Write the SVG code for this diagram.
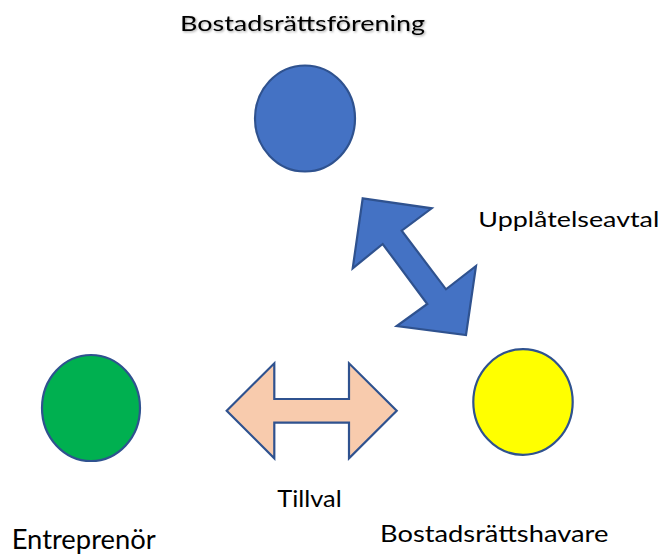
<svg xmlns="http://www.w3.org/2000/svg" width="664" height="555" viewBox="0 0 664 555">
<defs>
<style>
.lbl{font-family:Lato,"Open Sans","Liberation Sans",sans-serif;fill:#000}
.node{stroke:#2F528F;stroke-width:2.2}
.arr{stroke:#2F528F;stroke-width:2.2;stroke-linejoin:miter}
</style>
<filter id="sh" x="-5%" y="-20%" width="110%" height="150%">
<feDropShadow dx="1.2" dy="1.2" stdDeviation="0.8" flood-color="#000" flood-opacity="0.35"/>
</filter>
</defs>
<rect width="664" height="555" fill="#fff"/>
<g id="connectors">
<polygon id="upplatelse-arrow" class="arr" fill="#4472C4" points="362.7,198.3 431.7,208.3 401.7,230.7 446,289.3 476,266 466,335 396.7,326 427.3,304 382.7,244 352.7,268.3"/>
<polygon id="tillval-arrow" class="arr" fill="#F8CBAD" points="226.7,410.7 274.3,363.3 274.3,399 349,399 349,363.3 396.7,410.7 349,458.3 349,422.7 274.3,422.7 274.3,458.3"/>
<text class="lbl" x="478.3" y="227.3" font-size="22" textLength="181" lengthAdjust="spacingAndGlyphs">Upplåtelseavtal</text>
<text class="lbl" x="277.3" y="506.7" font-size="24" textLength="64.4" lengthAdjust="spacingAndGlyphs">Tillval</text>
</g>
<g id="bostadsrattsforening">
<ellipse class="node" cx="305" cy="118.5" rx="50" ry="53" fill="#4472C4"/>
<text class="lbl" x="180" y="30.7" font-size="22" textLength="245" lengthAdjust="spacingAndGlyphs" filter="url(#sh)">Bostadsrättsförening</text>
</g>
<g id="entreprenor">
<ellipse class="node" cx="91" cy="408" rx="49" ry="53" fill="#00B050"/>
<text class="lbl" x="11.7" y="549.3" font-size="26" textLength="144" lengthAdjust="spacingAndGlyphs">Entreprenör</text>
</g>
<g id="bostadsrattshavare">
<ellipse class="node" cx="523" cy="402" rx="49.7" ry="52.8" fill="#FFFF00"/>
<text class="lbl" x="380" y="541.7" font-size="23" textLength="228.3" lengthAdjust="spacingAndGlyphs">Bostadsrättshavare</text>
</g>
</svg>
